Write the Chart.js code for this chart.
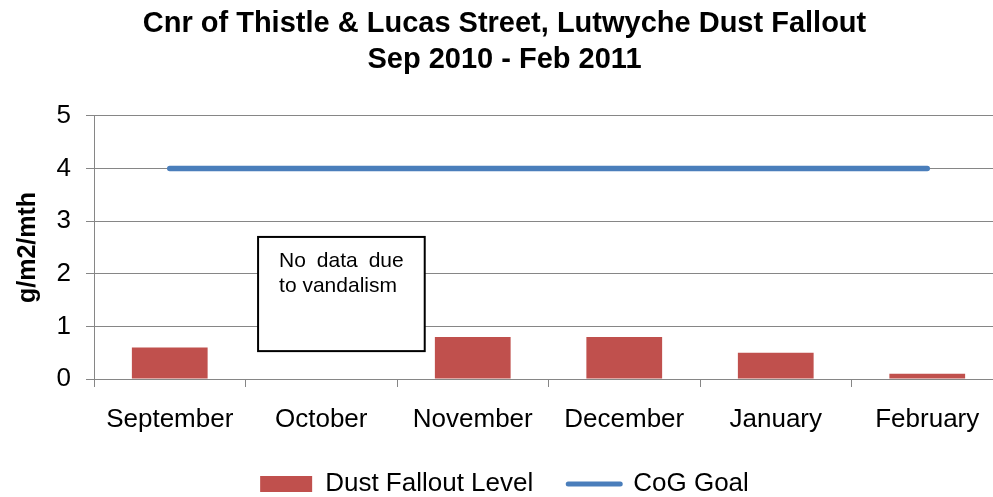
<!DOCTYPE html>
<html>
<head>
<meta charset="utf-8">
<script src="https://cdn.jsdelivr.net/npm/chart.js@4/dist/chart.umd.min.js"></script>
<style>
  html, body { margin: 0; padding: 0; overflow: hidden; background: #ffffff; }
  #wrap { position: absolute; left: 0; top: 0; width: 1009px; height: 507px; }
</style>
</head>
<body>
<div id="wrap"><canvas id="c" width="1009" height="507"></canvas></div>
<script>
// ---- data ----
const categories = ['September', 'October', 'November', 'December', 'January', 'February'];
const dustFallout = [0.6, null, 0.8, 0.8, 0.5, 0.1];
const cogGoal = [4, 4, 4, 4, 4, 4];
const yTicks = [0, 1, 2, 3, 4, 5];
const titleLines = ['Cnr of Thistle & Lucas Street, Lutwyche Dust Fallout', 'Sep 2010 - Feb 2011'];
const noteLines = ['No data due', 'to vandalism'];

const FONT = "'Liberation Sans', Arial, Helvetica, sans-serif";
Chart.defaults.font.family = FONT;
Chart.defaults.color = '#000000';

const GRID = '#868686';

// Text box annotation ("No data due to vandalism"), placed in data units via the scales
const notePlugin = {
  id: 'noteBox',
  afterDatasetsDraw(chart, args, opts) {
    const xs = chart.scales.x, ys = chart.scales.y;
    const ctx = chart.ctx;
    const l = xs.getPixelForValue(opts.x0), r = xs.getPixelForValue(opts.x1);
    const t = ys.getPixelForValue(opts.y1), b = ys.getPixelForValue(opts.y0);
    ctx.save();
    ctx.fillStyle = '#ffffff';
    ctx.fillRect(l, t, r - l, b - t);
    ctx.strokeStyle = '#000000';
    ctx.lineWidth = 2;
    ctx.strokeRect(l, t, r - l, b - t);
    ctx.fillStyle = '#000000';
    ctx.font = '21px ' + FONT;
    ctx.textBaseline = 'middle';
    ctx.textAlign = 'left';
    const inset = 21, innerW = (r - l) - 2 * inset;
    opts.lines.forEach((line, i) => {
      const y = t + 24 + i * 25;
      const last = i === opts.lines.length - 1;
      if (last) {
        ctx.fillText(line, l + inset, y);
      } else {
        const words = line.split(' ');
        const ww = words.map(w => ctx.measureText(w).width);
        const total = ww.reduce((a, c) => a + c, 0);
        const gap = (innerW - total) / (words.length - 1);
        let x = l + inset;
        words.forEach((w, k) => { ctx.fillText(w, x, y); x += ww[k] + gap; });
      }
    });
    ctx.restore();
  }
};

new Chart(document.getElementById('c'), {
  type: 'bar',
  data: {
    labels: categories,
    datasets: [
      {
        type: 'bar',
        label: 'Dust Fallout Level',
        data: dustFallout,
        backgroundColor: '#C0504D',
        borderWidth: 0,
        barPercentage: 0.5,
        categoryPercentage: 1.0,
        order: 2
      },
      {
        type: 'line',
        label: 'CoG Goal',
        data: cogGoal,
        borderColor: '#4A7EBB',
        backgroundColor: '#4A7EBB',
        borderWidth: 5.5,
        borderCapStyle: 'round',
        pointRadius: 0,
        pointHoverRadius: 0,
        fill: false,
        tension: 0,
        order: 1
      }
    ]
  },
  options: {
    responsive: false,
    maintainAspectRatio: false,
    devicePixelRatio: 1,
    animation: false,
    events: [],
    layout: { padding: { left: 6, right: 6, top: 0, bottom: 0 } },
    plugins: {
      title: {
        display: true,
        text: titleLines,
        color: '#000000',
        font: { size: 29, weight: 'bold', family: FONT, lineHeight: 1.24 },
        padding: { top: 6, bottom: 38 }
      },
      legend: {
        display: true,
        position: 'bottom',
        labels: {
          color: '#000000',
          font: { size: 26, family: FONT },
          usePointStyle: true,
          pointStyleWidth: 52,
          boxHeight: 16,
          padding: 35,
          generateLabels(chart) {
            return chart.data.datasets.map((ds, i) => {
              const isLine = ds.type === 'line';
              return {
                text: ds.label,
                datasetIndex: i,
                fillStyle: isLine ? ds.borderColor : ds.backgroundColor,
                strokeStyle: isLine ? ds.borderColor : ds.backgroundColor,
                lineWidth: isLine ? 5 : 0,
                lineCap: 'round',
                pointStyle: isLine ? 'line' : 'rect',
                fontColor: '#000000',
                hidden: false
              };
            });
          }
        }
      },
      tooltip: { enabled: false },
      noteBox: { x0: 0.583, x1: 1.683, y0: 0.53, y1: 2.70, lines: noteLines }
    },
    scales: {
      x: {
        offset: true,
        grid: {
          display: true,
          drawOnChartArea: false,
          drawTicks: true,
          tickLength: 8,
          color: GRID,
          offset: true
        },
        border: { display: true, color: GRID, width: 1 },
        ticks: {
          color: '#000000',
          font: { size: 26, family: FONT },
          padding: 17,
          maxRotation: 0,
          autoSkip: false
        },
        afterFit(scale) { scale.height = 57; }
      },
      y: {
        min: 0,
        max: 5,
        afterBuildTicks(scale) { scale.ticks = yTicks.map(v => ({ value: v })); },
        grid: {
          color: GRID,
          lineWidth: 1,
          drawTicks: true,
          tickLength: 8
        },
        border: { display: true, color: GRID, width: 1 },
        ticks: {
          color: '#000000',
          font: { size: 26, family: FONT },
          padding: 15
        },
        title: {
          display: true,
          text: 'g/m2/mth',
          color: '#000000',
          font: { size: 25, weight: 'bold', family: FONT, lineHeight: 1.2 },
          padding: { top: 7, bottom: 0 }
        },
        afterFit(scale) { scale.width = 88; }
      }
    }
  },
  plugins: [notePlugin]
});
</script>
</body>
</html>
